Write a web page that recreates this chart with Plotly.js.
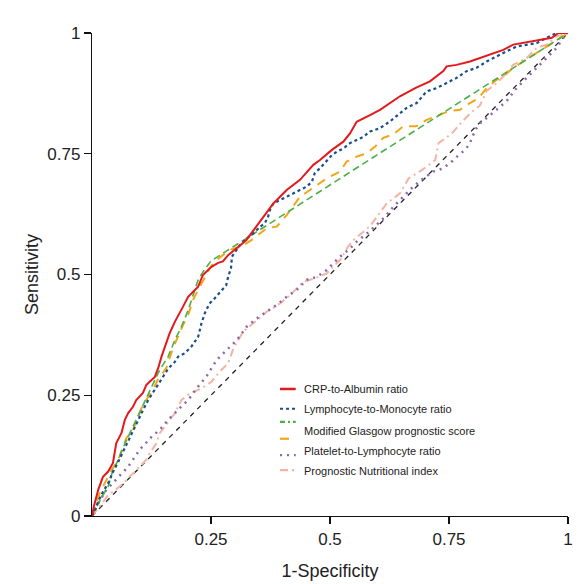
<!DOCTYPE html>
<html><head><meta charset="utf-8">
<script src="https://cdn.plot.ly/plotly-3.0.1.min.js"></script>
<style>html,body{margin:0;padding:0;background:#fff}#chart{width:588px;height:584px}</style>
</head><body><div id="chart"></div>
<script>
// ---- data (1-specificity, sensitivity) ----
const crpAlbumin = [[0,0],[0.004,0.02],[0.013,0.054],[0.023,0.081],[0.034,0.092],[0.044,0.110],[0.051,0.151],[0.062,0.172],[0.069,0.199],[0.076,0.213],[0.086,0.226],[0.093,0.240],[0.107,0.255],[0.114,0.271],[0.121,0.278],[0.132,0.288],[0.139,0.306],[0.146,0.330],[0.163,0.378],[0.174,0.402],[0.191,0.433],[0.202,0.454],[0.223,0.475],[0.233,0.499],[0.251,0.516],[0.265,0.524],[0.275,0.527],[0.286,0.540],[0.303,0.554],[0.324,0.571],[0.345,0.599],[0.363,0.623],[0.381,0.647],[0.409,0.675],[0.437,0.696],[0.465,0.727],[0.479,0.737],[0.504,0.758],[0.528,0.775],[0.542,0.792],[0.556,0.816],[0.584,0.830],[0.605,0.841],[0.647,0.869],[0.679,0.886],[0.710,0.900],[0.738,0.921],[0.745,0.931],[0.766,0.934],[0.794,0.941],[0.826,0.952],[0.864,0.965],[0.885,0.976],[0.927,0.983],[0.966,0.990],[0.980,1.0],[1,1]];
const lymphMono = [[0,0],[0.006,0.012],[0.013,0.030],[0.023,0.050],[0.034,0.068],[0.044,0.091],[0.055,0.112],[0.065,0.133],[0.076,0.153],[0.086,0.174],[0.097,0.199],[0.107,0.219],[0.118,0.240],[0.128,0.255],[0.140,0.275],[0.149,0.288],[0.160,0.305],[0.174,0.319],[0.181,0.330],[0.195,0.337],[0.209,0.351],[0.223,0.371],[0.230,0.399],[0.237,0.420],[0.247,0.440],[0.258,0.451],[0.272,0.468],[0.282,0.478],[0.286,0.495],[0.292,0.513],[0.294,0.537],[0.311,0.561],[0.325,0.575],[0.339,0.585],[0.353,0.599],[0.363,0.606],[0.370,0.620],[0.374,0.634],[0.381,0.647],[0.395,0.654],[0.409,0.661],[0.423,0.668],[0.437,0.675],[0.451,0.682],[0.462,0.692],[0.468,0.710],[0.479,0.720],[0.493,0.734],[0.504,0.747],[0.514,0.754],[0.528,0.761],[0.542,0.772],[0.556,0.778],[0.570,0.785],[0.584,0.796],[0.605,0.803],[0.626,0.817],[0.647,0.834],[0.661,0.845],[0.682,0.855],[0.703,0.879],[0.724,0.886],[0.745,0.896],[0.766,0.907],[0.787,0.921],[0.808,0.928],[0.829,0.941],[0.850,0.952],[0.871,0.962],[0.892,0.972],[0.913,0.976],[0.934,0.979],[0.955,0.990],[0.976,1.0],[1,1]];
const glasgowGreen = [[0,0],[0.002,0.006],[0.023,0.043],[0.034,0.061],[0.044,0.095],[0.055,0.116],[0.065,0.141],[0.076,0.164],[0.086,0.188],[0.097,0.209],[0.107,0.230],[0.118,0.255],[0.128,0.275],[0.139,0.296],[0.149,0.313],[0.160,0.330],[0.174,0.364],[0.188,0.392],[0.202,0.426],[0.212,0.454],[0.223,0.489],[0.233,0.505],[0.250,0.528],[1,1]];
const glasgowOrange = [[0,0],[0.016,0.047],[0.041,0.095],[0.055,0.116],[0.072,0.161],[0.086,0.178],[0.097,0.206],[0.107,0.230],[0.128,0.261],[0.137,0.280],[0.156,0.306],[0.170,0.347],[0.191,0.395],[0.202,0.416],[0.212,0.447],[0.219,0.461],[0.240,0.499],[0.247,0.513],[0.258,0.527],[0.275,0.540],[0.289,0.551],[0.314,0.558],[0.335,0.571],[0.367,0.596],[0.388,0.599],[0.409,0.623],[0.437,0.661],[0.458,0.675],[0.493,0.699],[0.521,0.713],[0.535,0.734],[0.556,0.744],[0.577,0.751],[0.595,0.765],[0.612,0.783],[0.633,0.790],[0.654,0.807],[0.682,0.807],[0.703,0.820],[0.728,0.830],[0.749,0.838],[0.773,0.841],[0.794,0.855],[0.812,0.865],[0.829,0.886],[0.850,0.903],[0.864,0.910],[0.885,0.928],[0.906,0.941],[0.927,0.955],[0.945,0.965],[0.966,0.979],[0.983,0.990],[1,1]];
const plateletLymph = [[0,0],[0.013,0.026],[0.030,0.054],[0.055,0.081],[0.076,0.102],[0.100,0.137],[0.125,0.164],[0.142,0.178],[0.160,0.199],[0.184,0.223],[0.202,0.240],[0.223,0.268],[0.241,0.290],[0.262,0.323],[0.283,0.344],[0.304,0.364],[0.325,0.392],[0.346,0.409],[0.367,0.423],[0.388,0.437],[0.409,0.454],[0.430,0.468],[0.451,0.489],[0.472,0.495],[0.493,0.509],[0.507,0.523],[0.521,0.537],[0.542,0.554],[0.556,0.568],[0.584,0.590],[0.612,0.616],[0.633,0.640],[0.654,0.661],[0.675,0.682],[0.696,0.699],[0.717,0.713],[0.738,0.720],[0.756,0.734],[0.770,0.747],[0.784,0.758],[0.794,0.772],[0.805,0.799],[0.815,0.813],[0.829,0.824],[0.850,0.841],[0.871,0.859],[0.892,0.886],[0.913,0.907],[0.934,0.928],[0.955,0.948],[0.976,0.969],[0.990,0.990],[1,1]];
const prognosticNutr = [[0,0],[0.009,0.012],[0.034,0.043],[0.062,0.064],[0.090,0.092],[0.114,0.116],[0.121,0.130],[0.135,0.150],[0.142,0.171],[0.160,0.195],[0.174,0.213],[0.188,0.240],[0.205,0.254],[0.230,0.264],[0.251,0.278],[0.269,0.300],[0.286,0.316],[0.297,0.347],[0.318,0.382],[0.339,0.399],[0.367,0.423],[0.395,0.440],[0.420,0.461],[0.444,0.485],[0.468,0.492],[0.493,0.502],[0.521,0.530],[0.538,0.558],[0.549,0.571],[0.584,0.600],[0.612,0.637],[0.619,0.647],[0.647,0.668],[0.665,0.699],[0.693,0.716],[0.721,0.737],[0.728,0.772],[0.756,0.792],[0.777,0.816],[0.798,0.837],[0.815,0.850],[0.829,0.880],[0.850,0.896],[0.864,0.910],[0.885,0.934],[0.913,0.948],[0.934,0.969],[0.955,0.976],[0.976,0.993],[1,1]];
const chanceLine = [[0,0],[1,1]];

const seriesNames = ['CRP-to-Albumin ratio','Lymphocyte-to-Monocyte ratio','Modified Glasgow prognostic score','','Platelet-to-Lymphocyte ratio','Prognostic Nutritional index'];
const xTickVals = [0.25, 0.5, 0.75, 1];
const xTickText = ['0.25', '0.5', '0.75', '1'];
const yTickVals = [0, 0.25, 0.5, 0.75, 1];
const yTickText = ['0', '0.25', '0.5', '0.75', '1'];

// ---- styles ----
const series = [crpAlbumin, lymphMono, glasgowGreen, glasgowOrange, plateletLymph, prognosticNutr];
const styles = [
  {color:'#e3191c', dash:'solid', width:2},
  {color:'#1b4f8a', dash:'3px,3px', width:2.2},
  {color:'#4caf45', dash:'7px,4px', width:1.6},
  {color:'#f2a516', dash:'9px,7px', width:2},
  {color:'#8a67aa', dash:'2px,5px', width:2.5},
  {color:'#f5b3a2', dash:'8px,4px,2px,4px', width:2}
];
const FONT = 'Liberation Sans, Arial, sans-serif';

const traces = [];
traces.push({x: chanceLine.map(p=>p[0]), y: chanceLine.map(p=>p[1]), mode:'lines', line:{color:'#222', dash:'5px,5px', width:1.3}, showlegend:false, hoverinfo:'skip'});
const drawOrder = [5,4,3,2,1,0];
drawOrder.forEach(i => {
  traces.push({x: series[i].map(p=>p[0]), y: series[i].map(p=>p[1]), mode:'lines', name: seriesNames[i],
    line:{color:styles[i].color, dash:styles[i].dash, width:styles[i].width}, showlegend:false});
});

// manual legend (sample rows and text rows as in reference)
const legSampleY = [0.263, 0.222, 0.195, 0.160, 0.126, 0.095];
const legTextY = [0.263, 0.222, 0.176, null, 0.135, 0.093];
const shapes = [], annotations = [];
for (let i = 0; i < 6; i++) {
  shapes.push({type:'line', xref:'paper', yref:'paper', x0:0.395, x1:0.428, y0:legSampleY[i], y1:legSampleY[i],
    line:{color:styles[i].color, dash: i===2 ? '5px,3px,2px,3px' : styles[i].dash, width: i===0 ? 2.5 : 2.2}});
  if (seriesNames[i]) {
    annotations.push({xref:'paper', yref:'paper', x:0.441, y:legTextY[i], xanchor:'left', yanchor:'middle',
      text: seriesNames[i], showarrow:false, font:{family:FONT, size:11, color:'#222'}});
  }
}

const axisCommon = {range:[0,1], showline:true, linecolor:'#111', linewidth:1.2, ticks:'outside', ticklen:7,
  tickwidth:1.2, tickcolor:'#111', showgrid:false, zeroline:false, automargin:false,
  tickfont:{family:FONT, size:17, color:'#222'}};

const layout = {
  width:588, height:584, margin:{l:92, r:20, t:33, b:68},
  paper_bgcolor:'#fff', plot_bgcolor:'#fff', showlegend:false,
  font:{family:FONT, color:'#222'},
  xaxis: Object.assign({}, axisCommon, {tickvals:xTickVals, ticktext:xTickText,
    title:{text:'1-Specificity', font:{family:FONT, size:18, color:'#222'}, standoff:16}}),
  yaxis: Object.assign({}, axisCommon, {tickvals:yTickVals, ticktext:yTickText,
    title:{text:'Sensitivity', font:{family:FONT, size:18, color:'#222'}, standoff:4}}),
  shapes: shapes, annotations: annotations
};

Plotly.newPlot('chart', traces, layout, {displayModeBar:false, staticPlot:true});
</script></body></html>
